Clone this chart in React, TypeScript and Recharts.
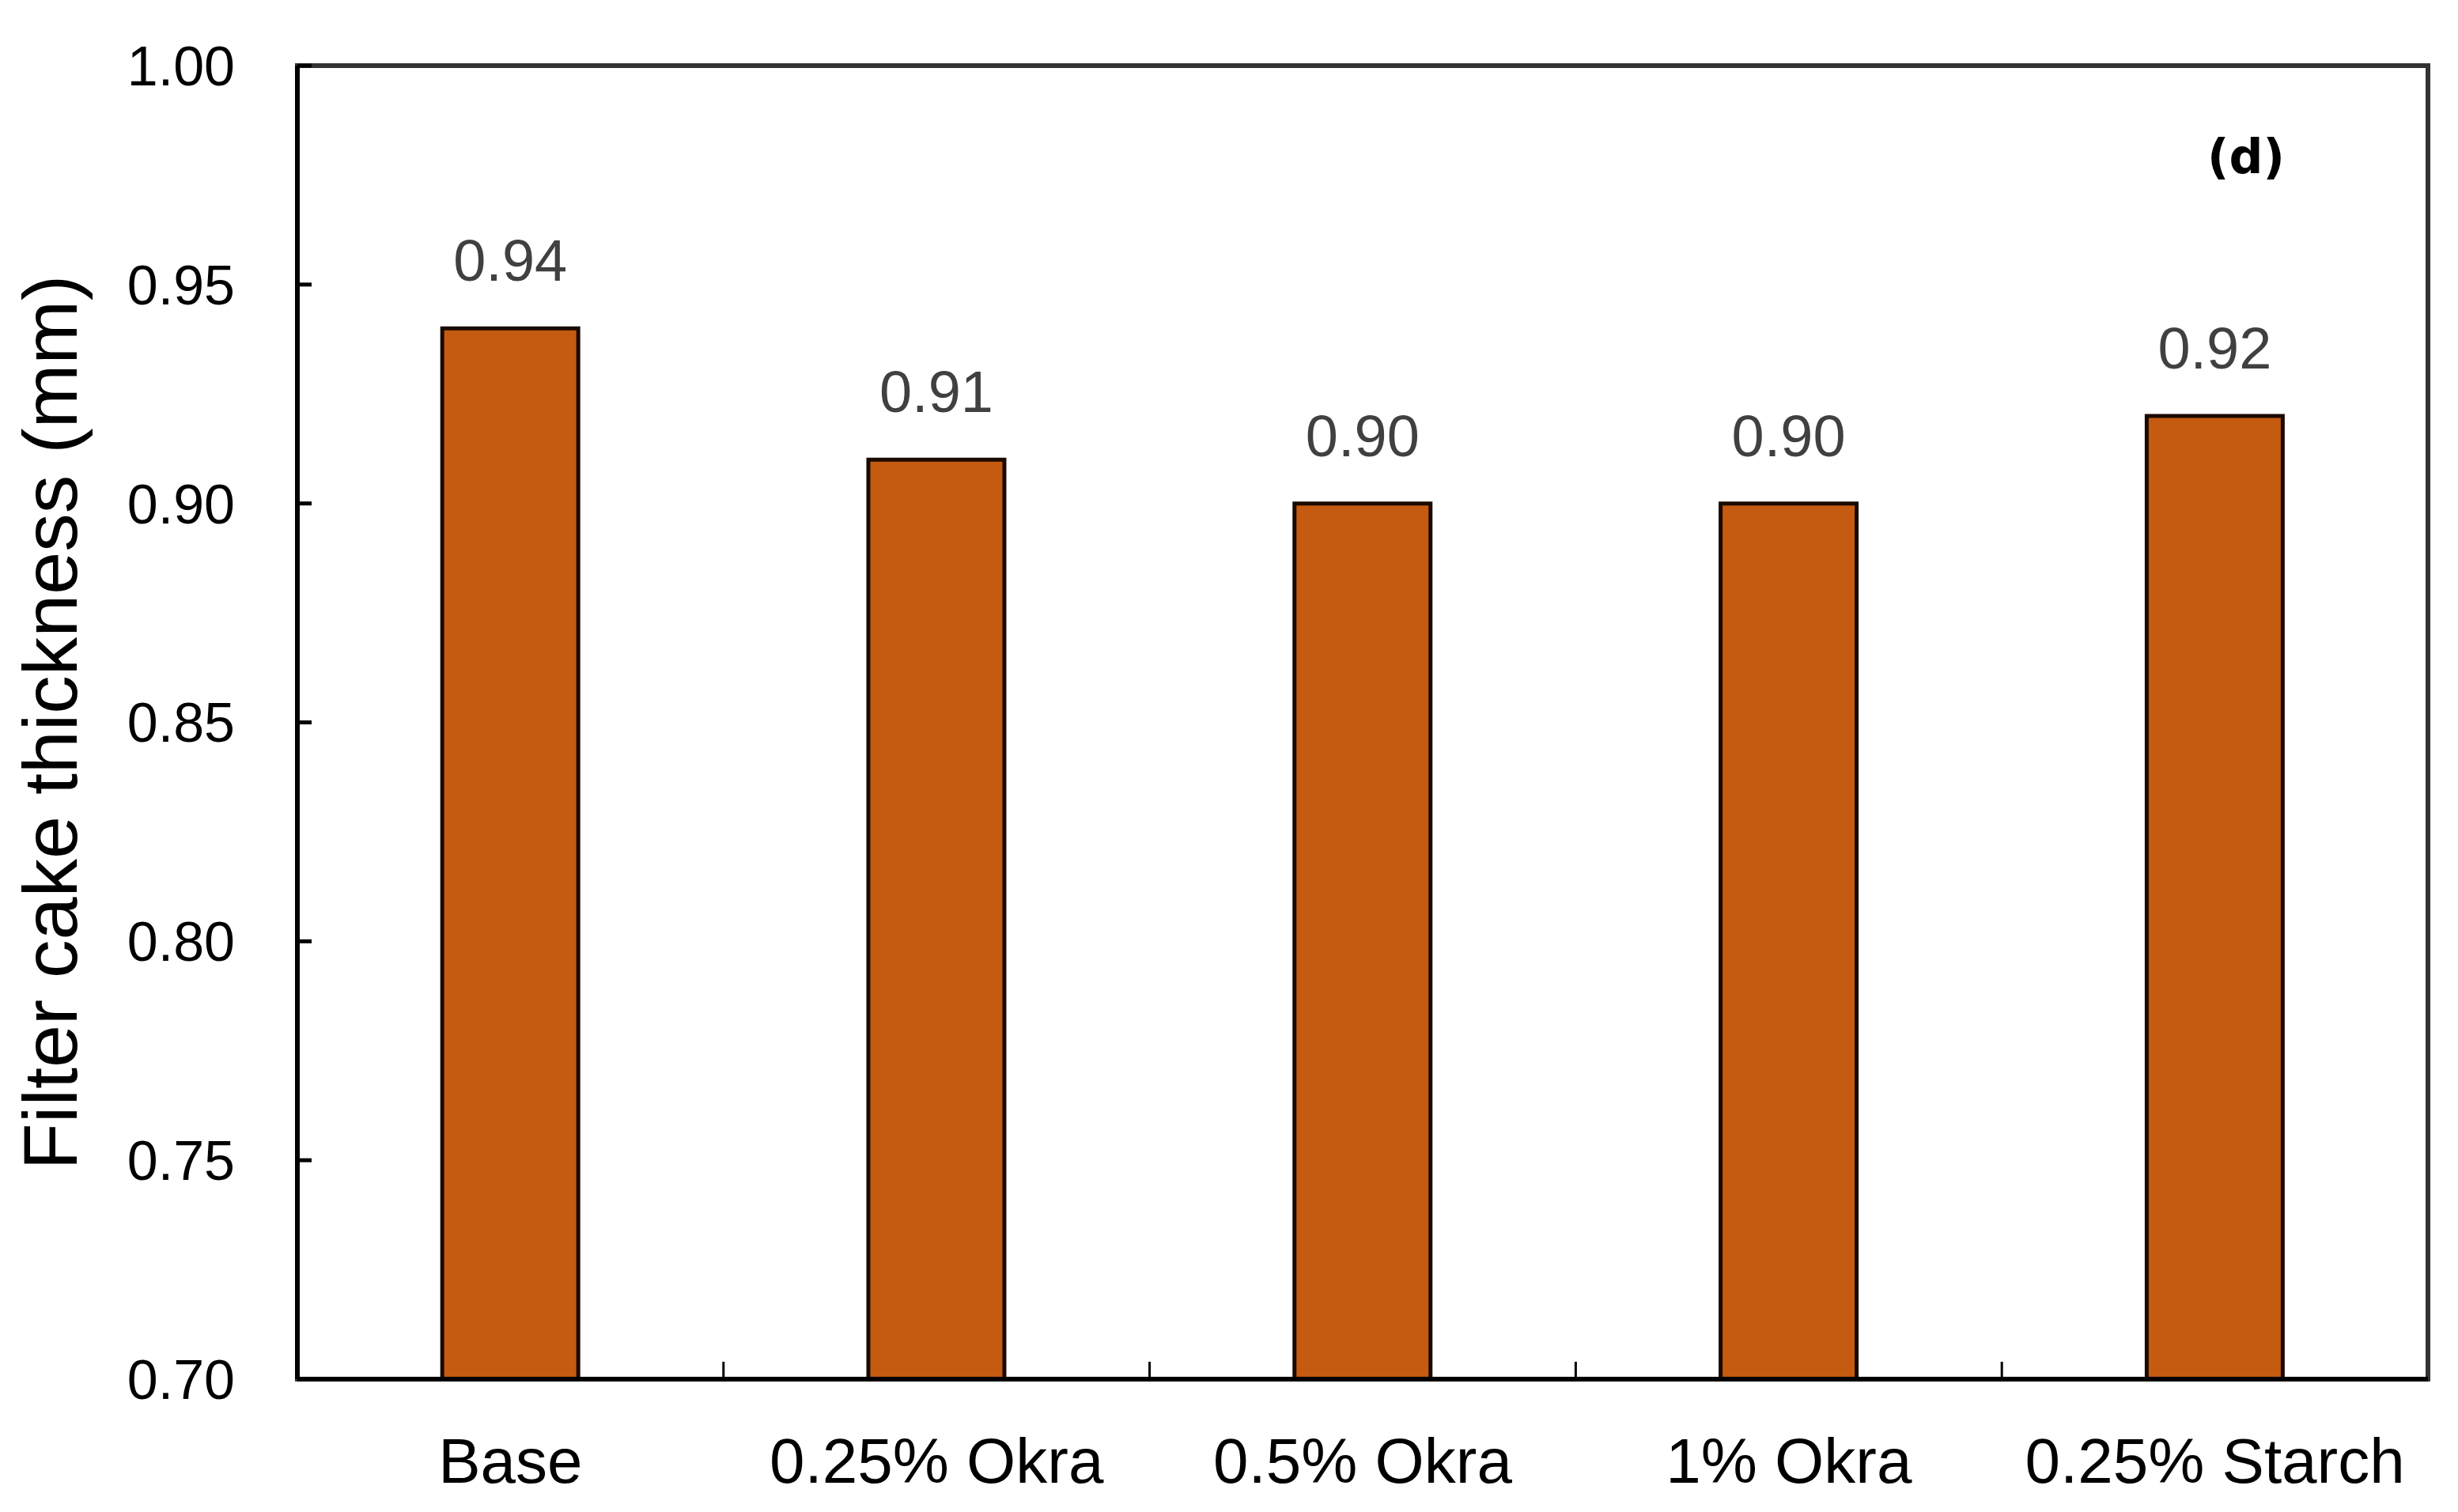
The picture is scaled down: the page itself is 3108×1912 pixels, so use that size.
import React from 'react';
import { BarChart, Bar, XAxis, YAxis, LabelList, ReferenceArea } from 'recharts';

const categories = ['Base', '0.25% Okra', '0.5% Okra', '1% Okra', '0.25% Starch'];
const thickness = [0.94, 0.91, 0.9, 0.9, 0.92];
const yTicks = [0.7, 0.75, 0.8, 0.85, 0.9, 0.95, 1.0];
const boundaryTicks = [1, 2, 3, 4];
const panelLabel = '(d)';
const yTitle = 'Filter cake thickness (mm)';

const data = categories.map((name, i) => ({ name, value: thickness[i], idx: i + 0.5 }));

const FONT = '"Liberation Sans", Arial, sans-serif';
const NoLabel = () => <g />;

const YTick = (props: any) => {
  const { x, y, payload } = props;
  return (
    <g>
      <line x1={x} x2={x + 18} y1={y} y2={y} stroke="#000" strokeWidth={5} />
      <text
        x={x - 79}
        y={y}
        dy="0.355em"
        textAnchor="end"
        fontFamily={FONT}
        fontSize={70}
        fill="#000"
      >
        {Number(payload.value).toFixed(2)}
      </text>
    </g>
  );
};

export default function App() {
  return (
    <div style={{ position: 'relative', width: 3092, height: 1896, background: '#fff' }}>
      <BarChart
        width={3092}
        height={1896}
        data={data}
        margin={{ top: 75, right: 30, bottom: 159, left: 367 }}
        barCategoryGap="34%"
      >
        <ReferenceArea y1={0.7} y2={1.0} fill="none" stroke="#333" strokeWidth={6} ifOverflow="visible" />
        <XAxis
          xAxisId="b"
          type="number"
          dataKey="idx"
          domain={[0, 5]}
          ticks={boundaryTicks}
          tick={NoLabel}
          axisLine={false}
          mirror
          tickSize={22}
          height={1}
          tickLine={{ stroke: '#000', strokeWidth: 3 }}
        />
        <XAxis
          dataKey="name"
          height={1}
          tickLine={false}
          tickSize={0}
          tickMargin={74}
          axisLine={{ stroke: '#000', strokeWidth: 6 }}
          tick={{ fontFamily: FONT, fontSize: 80, fill: '#000' }}
          interval={0}
        />
        <YAxis
          domain={[0.7, 1.0]}
          ticks={yTicks}
          width={1}
          allowDataOverflow
          tickLine={false}
          tickSize={0}
          tickMargin={0}
          axisLine={{ stroke: '#000', strokeWidth: 6 }}
          tick={YTick}
          label={{
            value: yTitle,
            angle: -90,
            position: 'insideLeft',
            offset: -312,
            style: { textAnchor: 'middle', fontFamily: FONT, fontSize: 97, fill: '#000' },
          }}
        />
        <Bar dataKey="value" fill="#C55A11" stroke="#1a0a00" strokeWidth={5} isAnimationActive={false}>
          <LabelList
            dataKey="value"
            position="top"
            offset={60}
            formatter={(v: number) => v.toFixed(2)}
            style={{ fontFamily: FONT, fontSize: 74, fill: '#404040' }}
          />
        </Bar>
      </BarChart>
      <div
        style={{
          position: 'absolute',
          left: 2840 - 8 - 70,
          top: 198 - 8 - 45,
          width: 140,
          height: 90,
          lineHeight: '90px',
          textAlign: 'center',
          fontFamily: '"DejaVu Sans", sans-serif',
          fontWeight: 'bold',
          fontSize: 60,
          color: '#000',
        }}
      >
        {panelLabel}
      </div>
    </div>
  );
}
